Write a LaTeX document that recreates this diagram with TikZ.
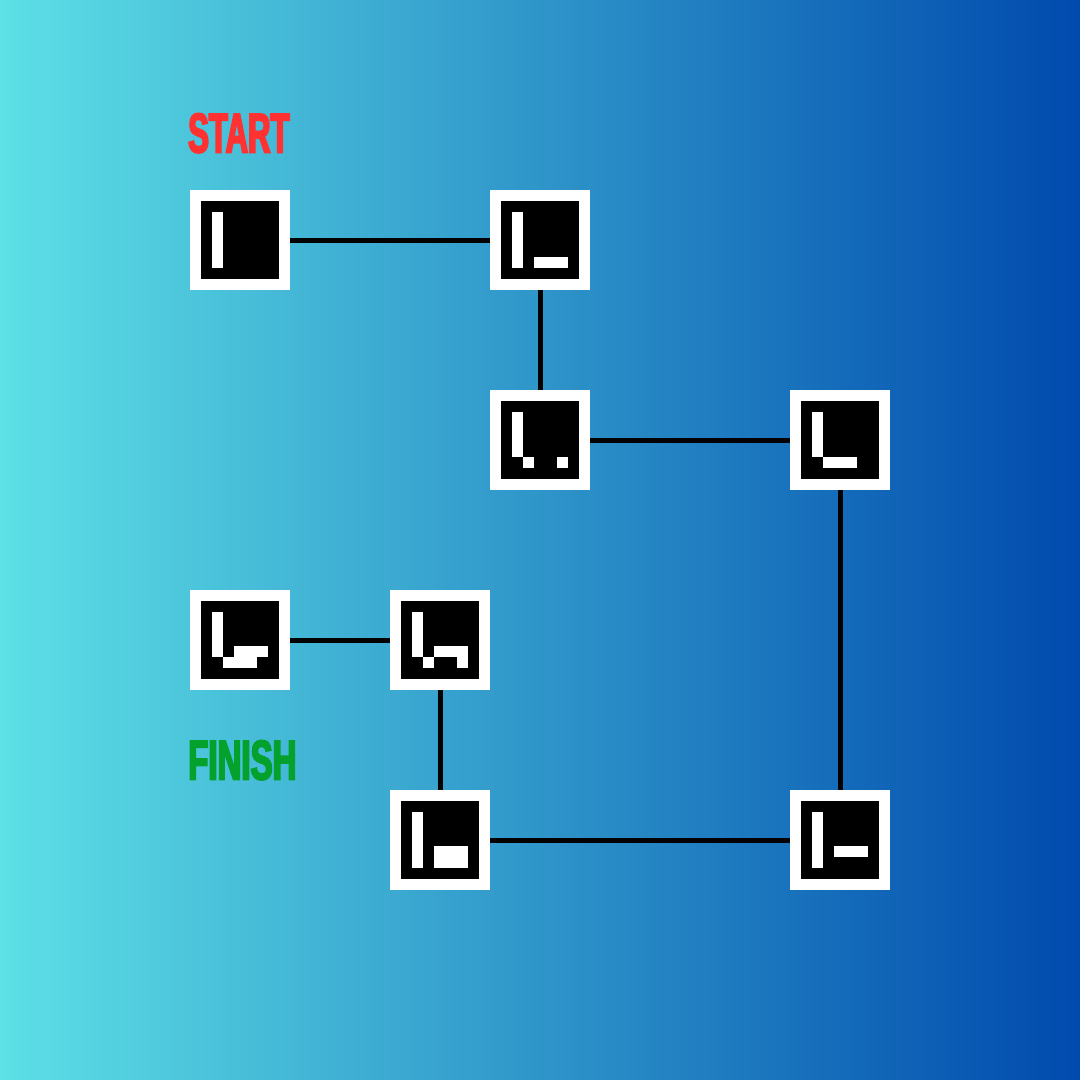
\documentclass[tikz,border=0pt]{standalone}
\usepackage{fontspec}
\newfontface\startfont{Liberation Sans Bold}[FakeStretch=0.555,FakeBold=3.2]
\newfontface\finishfont{Liberation Sans Bold}[FakeStretch=0.59,FakeBold=3.2]
\definecolor{gradL}{HTML}{5DE0E6}
\definecolor{gradR}{HTML}{004AAD}
\definecolor{startred}{HTML}{FF3131}
\definecolor{finishgreen}{HTML}{04A22C}
\newcommand{\glyph}[2]{%
  \begin{scope}[shift={(#1.center)},x=11.142857pt,y=-11.142857pt,shift={(-3.5,-3.5)}]
    \foreach \ca/\ra/\cb/\rb in {#2} {\fill[white] (\ca,\ra) rectangle (\cb,\rb);}
  \end{scope}}
\tikzset{
  tile/.style={draw=white,fill=black,line width=11pt,minimum size=89pt,inner sep=0pt,rectangle},
  link/.style={draw=black,line width=5pt},
  lab/.style={anchor=base west,inner sep=0pt,font=\fontsize{56pt}{56pt}\selectfont}
}
\begin{document}
\begin{tikzpicture}[x=1pt,y=-1pt]
\useasboundingbox (0,0) rectangle (1080,1080);
\shade[left color=gradL,right color=gradR] (0,0) rectangle (1080,1080);
\node[tile] (a) at (240,240) {};
\node[tile] (b) at (540,240) {};
\node[tile] (c) at (540,440) {};
\node[tile] (d) at (840,440) {};
\node[tile] (e) at (840,840) {};
\node[tile] (f) at (440,840) {};
\node[tile] (g) at (440,640) {};
\node[tile] (h) at (240,640) {};
\draw[link] (a) -- (b);
\draw[link] (b) -- (c);
\draw[link] (c) -- (d);
\draw[link] (d) -- (e);
\draw[link] (e) -- (f);
\draw[link] (f) -- (g);
\draw[link] (g) -- (h);
\glyph{a}{1/1/2/6}
\glyph{b}{1/1/2/6, 3/5/6/6}
\glyph{c}{1/1/2/5, 2/5/3/6, 5/5/6/6}
\glyph{d}{1/1/2/5, 2/5/5/6}
\glyph{e}{1/1/2/6, 3/4/6/5}
\glyph{f}{1/1/2/6, 3/4/6/6}
\glyph{g}{1/1/2/5, 2/5/3/6, 3/4/6/5, 5/5/6/6}
\glyph{h}{1/1/2/5, 2/5/5/6, 3/4/6/5}
\node[lab,text=startred] (startlabel) at (188,152.5) {\startfont START};
\node[lab,text=finishgreen] (finishlabel) at (188,779.5) {\finishfont FINISH};
\end{tikzpicture}
\end{document}
